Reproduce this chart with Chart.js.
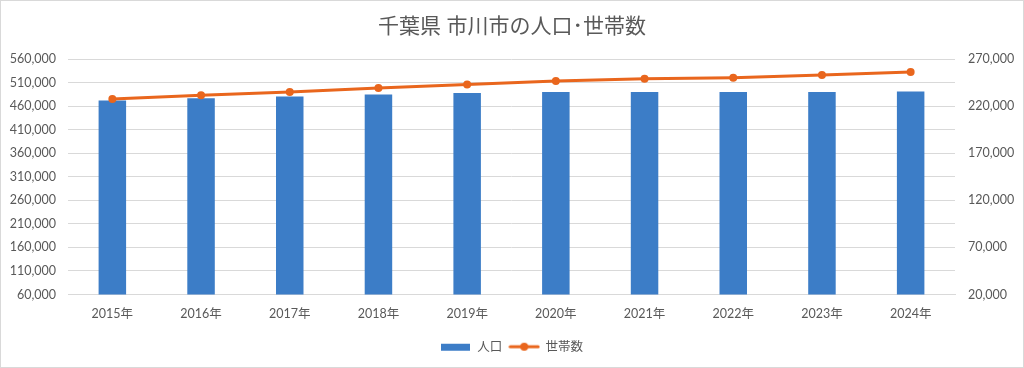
<!DOCTYPE html>
<html><head><meta charset="utf-8">
<script src="https://cdn.jsdelivr.net/npm/chart.js@4/dist/chart.umd.min.js"></script>
<style>
html,body{margin:0;padding:0;background:#fff;}
#wrap{width:1024px;height:368px;box-sizing:border-box;border:1px solid #d9d9d9;position:relative;}
canvas{display:block;}
</style></head>
<body><div id="wrap"><canvas id="c" width="1022" height="366"></canvas></div>
<script>
const titleText = '千葉県 市川市の人口･世帯数';
const categories = ['2015年','2016年','2017年','2018年','2019年','2020年','2021年','2022年','2023年','2024年'];
const population = [472000, 477000, 481000, 485000, 488000, 490500, 490500, 490500, 490500, 491500];
const households = [227800, 231700, 235200, 239500, 243100, 246800, 249300, 250400, 253200, 256400];
const popLabel = '人口';
const hhLabel = '世帯数';
const leftAxis = {min: 60000, max: 560000, step: 50000};
const rightAxis = {min: 20000, max: 270000, step: 50000};

const BLUE = '#3c7dc7';
const ORANGE = '#e9661d';
const TXT = '#595959';
const FONT = 'Lato, "Noto Sans CJK JP", sans-serif';

function legendIcon(kind){
  const cv = document.createElement('canvas');
  cv.width = 32; cv.height = 12;
  const g = cv.getContext('2d');
  if (kind === 'bar') { g.fillStyle = BLUE; g.fillRect(1, 3, 29, 7); }
  else {
    g.strokeStyle = ORANGE; g.lineWidth = 3; g.lineCap='round';
    g.beginPath(); g.moveTo(2, 6); g.lineTo(30, 6); g.stroke();
    g.fillStyle = ORANGE; g.beginPath(); g.arc(16, 6, 4, 0, Math.PI*2); g.fill();
  }
  return cv;
}
const icons = [legendIcon('bar'), legendIcon('line')];

new Chart(document.getElementById('c'), {
  data: {
    labels: categories,
    datasets: [
      {type:'line', label: hhLabel, data: households, yAxisID:'y2', borderColor: ORANGE, backgroundColor: ORANGE,
       borderWidth: 3, pointRadius: 4, pointBackgroundColor: ORANGE, pointBorderWidth: 0, tension: 0, order: 0},
      {type:'bar', label: popLabel, data: population, yAxisID:'y', backgroundColor: BLUE,
       categoryPercentage: 1, barPercentage: 0.31, order: 1}
    ]
  },
  options: {
    responsive:false, animation:false,
    layout:{padding:{left:0,right:0,top:0,bottom:4}},
    plugins:{
      title:{display:true, text:titleText, color:TXT, font:{family:FONT, size:21, weight:'normal'}, padding:{top:13,bottom:20}},
      legend:{position:'bottom', reverse:true,
        labels:{usePointStyle:true, pointStyleWidth:30, color:TXT, font:{family:FONT, size:12.5}, padding:7,
          generateLabels(chart){
            const items = Chart.defaults.plugins.legend.labels.generateLabels(chart);
            items.forEach(it=>{ it.pointStyle = icons[it.datasetIndex===1?0:1]; });
            return items;
          }}},
      tooltip:{enabled:false}
    },
    scales:{
      x:{grid:{display:false, drawTicks:false}, border:{color:'#d9d9d9'},
         ticks:{color:TXT, font:{family:FONT, size:12.5}, padding:12}},
      y:{position:'left', min:leftAxis.min, max:leftAxis.max,
         afterFit(s){ s.width = 67; },
         grid:{color:'#d9d9d9', drawTicks:false}, border:{display:false},
         ticks:{stepSize:leftAxis.step, color:TXT, font:{family:FONT, size:12.5}, padding:12,
           callback:v=>v.toLocaleString('en-US')}},
      y2:{position:'right', min:rightAxis.min, max:rightAxis.max,
         afterFit(s){ s.width = 68; },
         grid:{display:false, drawTicks:false}, border:{display:false},
         ticks:{stepSize:rightAxis.step, color:TXT, font:{family:FONT, size:12.5}, padding:13,
           callback:v=>v.toLocaleString('en-US')}}
    }
  }
});
</script></body></html>
